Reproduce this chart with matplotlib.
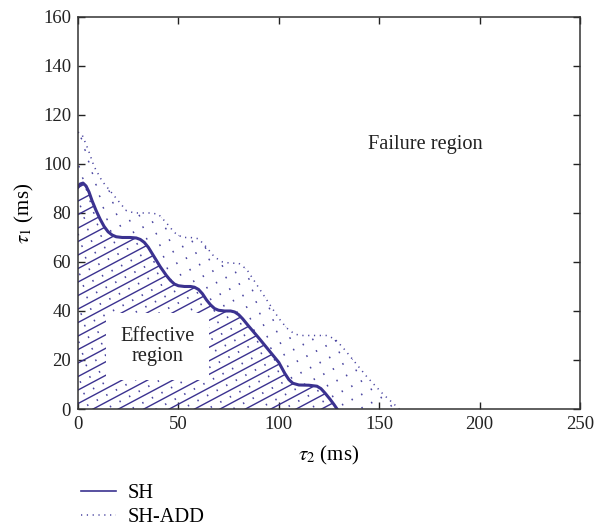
import numpy as np
import matplotlib
matplotlib.use("Agg")
import matplotlib.pyplot as plt
from matplotlib.patches import Polygon
from matplotlib.lines import Line2D

plt.rcParams['font.family'] = ['Liberation Serif', 'DejaVu Serif']
plt.rcParams['mathtext.fontset'] = 'stix'
plt.rcParams['font.size'] = 13

# SH boundary (tau2, tau1) in ms
sh_x = [0, 1, 2.5, 4, 5.5, 7, 9, 11, 13, 15, 17, 19, 22, 26, 29, 31, 33, 35, 38,
        41, 44, 46, 48, 50, 53, 56, 58, 60, 62, 64, 66, 68, 70, 73, 76, 78, 80,
        82, 85, 90, 95, 100, 103, 105, 107, 110, 115, 119, 121, 123, 125.5,
        127.5, 129]
sh_y = [90.5, 91.8, 92.2, 91, 88.5, 85, 81, 77.5, 74.5, 72.3, 71, 70.3, 70, 70,
        69.8, 69.2, 68, 66, 62, 58, 54.5, 52.5, 51, 50.3, 50, 50, 49.7, 48.8, 47,
        44.5, 42.5, 41, 40.3, 40, 40, 39.6, 38.5, 36.8, 33.8, 29, 24, 19, 14.5,
        12, 10.5, 9.8, 9.7, 9.3, 8.3, 6.5, 4, 1.8, 0]

# SH-ADD boundary
add_x = [0, 2, 5, 8, 12, 16, 20, 24, 28, 32, 36, 40, 44, 48, 52, 56, 60, 64, 68,
         72, 76, 80, 84, 88, 92, 96, 100, 104, 108, 112, 116, 120, 124, 128, 132,
         136, 140, 144, 148, 152, 156, 160]
add_y = [113, 112, 106, 99, 93, 89, 85, 81, 80, 80, 80, 79.5, 76, 72, 70, 70, 69.5,
         66, 62, 60, 59.5, 59.5, 57, 52, 47, 42, 37, 33, 30.5, 30, 30, 30, 30, 28.5,
         25, 21, 17, 13, 9.5, 6, 3, 0]

color = '#3b3290'
dot_color = '#4a45a0'

fig = plt.figure(figsize=(5.96, 5.30), dpi=100)
ax = fig.add_axes([0.1309, 0.2283, 0.8423, 0.7397])
ax.set_xlim(0, 250)
ax.set_ylim(0, 160)

# slope of hatch lines in data units (about 28 deg on screen)
px_x = 502 / 250
px_y = 392 / 160
slope = np.tan(np.radians(28)) * px_x / px_y
step = 13.5 / px_y
xs = np.array([0, 250])

add_poly = Polygon(list(zip([0] + add_x, [0] + add_y)), closed=True,
                   facecolor='none', edgecolor='none')
ax.add_patch(add_poly)
period = 6.0
for i, c in enumerate(np.arange(-120, 170, step)):
    off = (i * 2.3) % period
    ln, = ax.plot(xs, c + slope * xs + step / 2 + 1.0, color=dot_color, lw=1.3,
                  linestyle=(off, (0.8, period - 0.8)), solid_capstyle='butt')
    ln.set_clip_path(add_poly)

sh_poly = Polygon(list(zip([0] + sh_x, [0] + sh_y)), closed=True,
                  facecolor='none', edgecolor='none')
ax.add_patch(sh_poly)
for c in np.arange(-120, 170, step):
    ln, = ax.plot(xs, c + slope * xs + 1.0, color=color, lw=1.0)
    ln.set_clip_path(sh_poly)

ax.plot(add_x, add_y, color=dot_color, lw=1.1, linestyle=(0, (0.8, 3)))
ax.plot(sh_x, sh_y, color=color, lw=2.2)

ax.text(39.5, 25.5, 'Effective\nregion', ha='center', va='center', fontsize=14.7,
        linespacing=1.05, color='#222222',
        bbox=dict(boxstyle='square,pad=0.7', facecolor='white', edgecolor='none'))
ax.text(173, 108, 'Failure region', ha='center', va='center', fontsize=14.7,
        color='#222222')

ax.set_xticks([0, 50, 100, 150, 200, 250])
ax.set_yticks(np.arange(0, 161, 20))
ax.tick_params(direction='in', top=True, right=True, length=5, width=1,
               labelsize=13.5, pad=5, colors='#222222')
for s in ax.spines.values():
    s.set_linewidth(1.1)
    s.set_color('#333333')
ax.set_xlabel(r'$\tau_2$ (ms)', fontsize=15, labelpad=8)
ax.set_ylabel(r'$\tau_1$ (ms)', fontsize=15, labelpad=5)

handles = [Line2D([], [], color=color, lw=1.2),
           Line2D([], [], color=dot_color, lw=1.1, linestyle=(0, (0.8, 3)))]
fig.legend(handles, ['SH', 'SH-ADD'], loc='upper left',
           bbox_to_anchor=(0.105, 0.122), frameon=False, fontsize=14.7,
           handlelength=1.7, handletextpad=0.6, labelspacing=0.25)

fig.savefig('out.png', dpi=100)
